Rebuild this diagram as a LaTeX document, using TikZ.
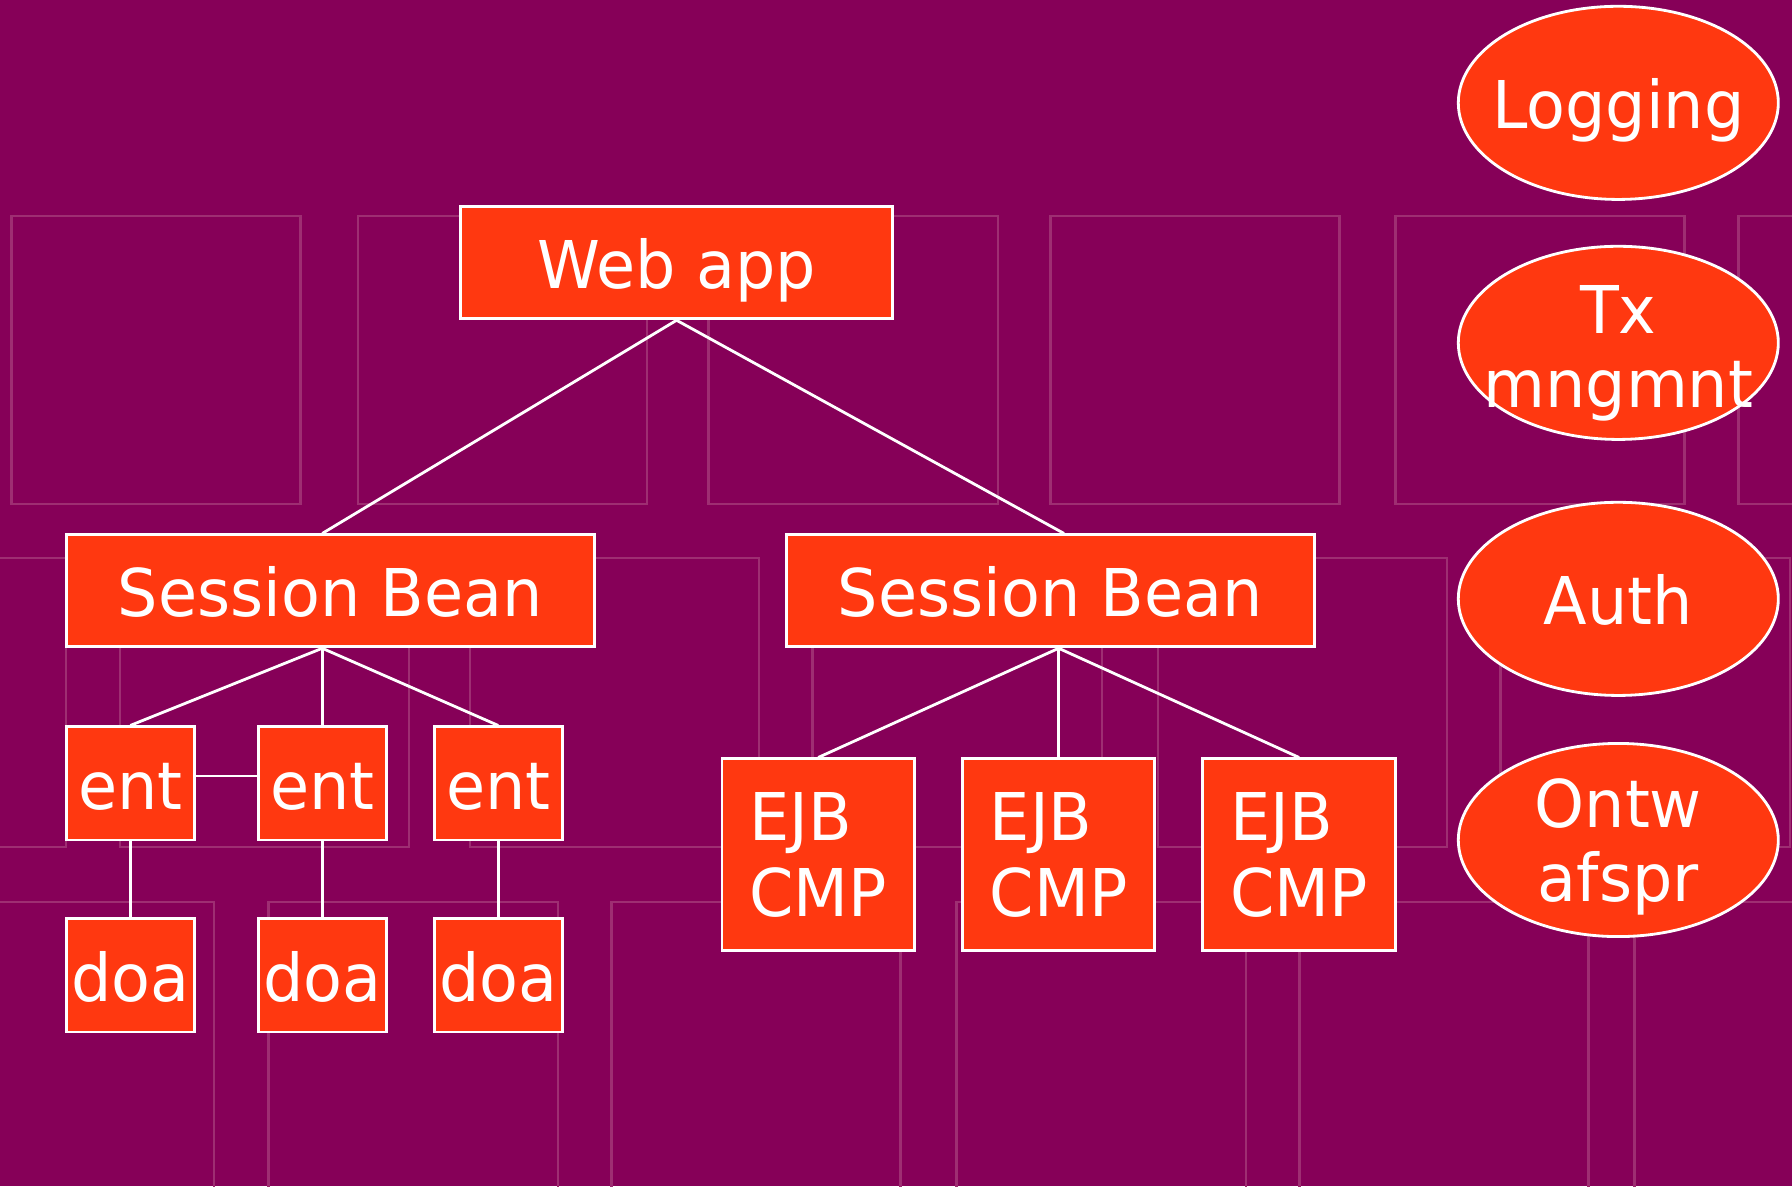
\documentclass[tikz,border=0pt]{standalone}
\usepackage{fontspec}
\setmainfont{DejaVu Sans}[FakeStretch=0.965]
\usetikzlibrary{positioning,shapes.geometric}
\definecolor{slidebg}{RGB}{134,0,88}
\definecolor{boxfill}{RGB}{255,56,16}
\definecolor{gridline}{RGB}{158,46,114}

\begin{document}
\begin{tikzpicture}[
        every node/.style={font=\fontsize{16.4}{18.4}\selectfont, text=white},
        box/.style={rectangle, draw=white, fill=boxfill, line width=0.7pt, inner sep=0pt},
        one line/.style={text height=13pt, text depth=0pt},
        wide box/.style={box, one line, minimum width=3.78cm, minimum height=0.98cm},
        bean box/.style={box, one line, minimum width=4.62cm, minimum height=0.98cm},
        small box/.style={box, one line, minimum width=1.12cm, minimum height=0.99cm},
        ejb box/.style={box, align=left, inner xsep=0.24cm, minimum width=1.68cm, minimum height=1.68cm,
            font=\fontsize{16.4}{19}\selectfont},
        oval/.style={ellipse, draw=white, fill=boxfill, line width=0.7pt, inner sep=0pt,
            minimum width=2.80cm, minimum height=1.69cm},
        oval text/.style={align=center, inner sep=0pt},
        link/.style={draw=white, line width=0.7pt},
        grid sq/.style={draw=gridline, line width=0.6pt}]
    \useasboundingbox (0,0) rectangle (15.68,10.38);
    \fill[slidebg] (0,0) rectangle (15.68,10.38);
    % background squares
    \begin{scope}
        \clip (0,0) rectangle (15.68,10.38);
        \foreach \x in {0.10,3.13,6.20,9.19,12.21,15.21}
            \draw[grid sq] (\x,5.97) rectangle ++(2.53,2.52);
        \foreach \x in {-1.95,1.05,4.11,7.11,10.13,13.13}
            \draw[grid sq] (\x,2.97) rectangle ++(2.53,2.53);
        \foreach \x in {-0.66,2.35,5.35,8.37,11.37,14.30}
            \draw[grid sq] (\x,-0.04) rectangle ++(2.53,2.53);
    \end{scope}

    \node[wide box] (webapp) at (5.92,8.08) {Web app};
    \node[bean box] (sb1) at (2.89,5.21) {Session Bean};
    \node[bean box] (sb2) at (9.19,5.21) {Session Bean};

    \node[small box] (ent1) at (1.14,3.525) {ent};
    \node[small box] (ent2) [right=0.535cm of ent1] {ent};
    \node[small box] (ent3) [right=0.395cm of ent2] {ent};
    \node[small box] (doa1) [below=0.665cm of ent1] {doa};
    \node[small box] (doa2) [below=0.665cm of ent2] {doa};
    \node[small box] (doa3) [below=0.665cm of ent3] {doa};

    \node[ejb box] (ejb1) at (7.16,2.90) {EJB\\CMP};
    \node[ejb box] (ejb2) [right=0.395cm of ejb1] {EJB\\CMP};
    \node[ejb box] (ejb3) [right=0.395cm of ejb2] {EJB\\CMP};

    \node[oval] (log) at (14.16,9.48) {};
    \node[oval] (tx) at (14.16,7.38) {};
    \node[oval] (auth) at (14.16,5.14) {};
    \node[oval] (ontw) at (14.16,3.03) {};
    \node[oval text, one line] (logtxt) at (log) {Logging};
    \node[oval text] (txtxt) [yshift=-0.09cm] at (tx) {Tx\\mngmnt};
    \node[oval text, one line] (authtxt) at (auth) {Auth};
    \node[oval text] (ontwtxt) [yshift=-0.06cm] at (ontw) {Ontw\\afspr};

    \draw[link] (ent2.north |- sb1.north) -- (webapp.south) -- ([xshift=0.12cm]sb2.north);
    \draw[link] (ent1.north) -- (ent2.north |- sb1.south) -- (ent3.north);
    \draw[link] (ent2.north |- sb1.south) -- (ent2.north);
    \draw[link] ([yshift=0.065cm]ent1.east) -- ([yshift=0.065cm]ent2.west);
    \draw[link] (ent1) -- (doa1);
    \draw[link] (ent2) -- (doa2);
    \draw[link] (ent3) -- (doa3);
    \draw[link] (ejb1.north) -- (ejb2.north |- sb2.south) -- (ejb3.north);
    \draw[link] (ejb2.north |- sb2.south) -- (ejb2.north);
\end{tikzpicture}
\end{document}
